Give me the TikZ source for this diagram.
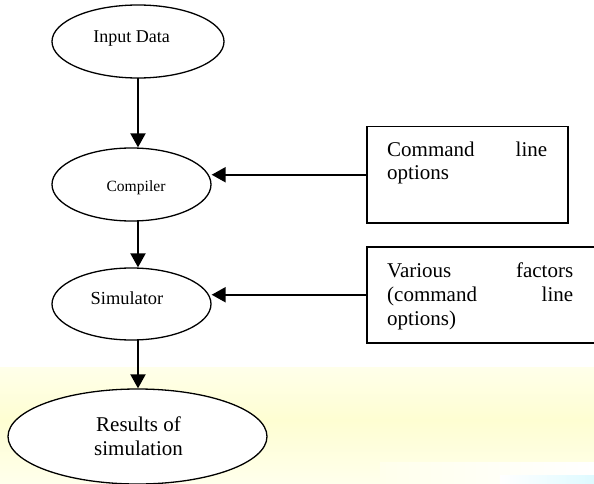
\documentclass[tikz,border=0pt]{standalone}
\usepackage{fontspec}
\setmainfont{Liberation Serif}
\usetikzlibrary{shapes.geometric,arrows.meta}
\definecolor{bgtop}{RGB}{255,255,234}
\definecolor{bgmid}{RGB}{254,254,210}
\definecolor{bgbot}{RGB}{255,255,236}
\definecolor{bgcyan}{RGB}{222,250,255}
\tikzset{
  oval/.style={ellipse, draw, line width=1.3pt, fill=white, inner sep=0pt},
  optbox/.style={rectangle, draw, line width=1.5pt, fill=white, inner sep=0pt, anchor=north west},
  lbl/.style={anchor=base, inner sep=0pt, font=\fontsize{#1}{24}\selectfont},
  boxtext/.style={anchor=base west, inner sep=0pt, text width=#1, font=\fontsize{21}{24}\selectfont},
  flow/.style={line width=2pt, -{Triangle[length=14pt, width=15pt]}}
}
\begin{document}
\begin{tikzpicture}[x=1pt, y=-1pt]
\useasboundingbox (0,0) rectangle (594,484);
% background band
\shade[top color=bgtop, bottom color=bgmid] (0,367) rectangle (594,420);
\shade[top color=bgmid, bottom color=bgbot] (0,420) rectangle (594,484);
\shade[left color=bgbot, right color=white] (380,462) rectangle (594,484);
\shade[left color=white, right color=bgcyan] (500,475) rectangle (594,484);
% ellipses
\node[oval, minimum width=172pt, minimum height=73pt] (input) at (138,41.5) {};
\node[oval, minimum width=159pt, minimum height=73pt] (compiler) at (131.5,184.5) {};
\node[oval, minimum width=159pt, minimum height=72pt] (sim) at (131.5,304) {};
\node[oval, minimum width=259pt, minimum height=95pt] (results) at (137.5,436.5) {};
% ellipse texts
\node[lbl=18] (inputT) at (131.5,42.3) {Input Data};
\node[lbl=15.6] (compilerT) at (136,191) {Compiler};
\node[lbl=18.4] (simT) at (127,304) {Simulator};
\node[lbl=21, align=center] (resultsT) at (138.5,455) {Results of\\simulation};
% boxes
\node[optbox, minimum width=201pt, minimum height=96pt] (cmd) at (366,126) {};
\node[optbox, minimum width=232pt, minimum height=96pt] (factors) at (366,246) {};
\node[boxtext=160pt] (cmdT) at (387,156) {Command\hfill line\\options};
\node[boxtext=186pt] (factorsT) at (387,277.5) {Various\hfill factors\\(command\hfill line\\options)};
% connectors
\draw[flow] (138,78) coordinate (inS) -- (inS |- compiler.north);
\draw[flow] (138,221) coordinate (coS) -- (coS |- sim.north);
\draw[flow] (138,340) coordinate (siS) -- (siS |- results.north);
\draw[flow] (cmd.west) -- (cmd.west -| compiler.east);
\draw[flow] (factors.west) -- (factors.west -| sim.east);
\end{tikzpicture}
\end{document}
